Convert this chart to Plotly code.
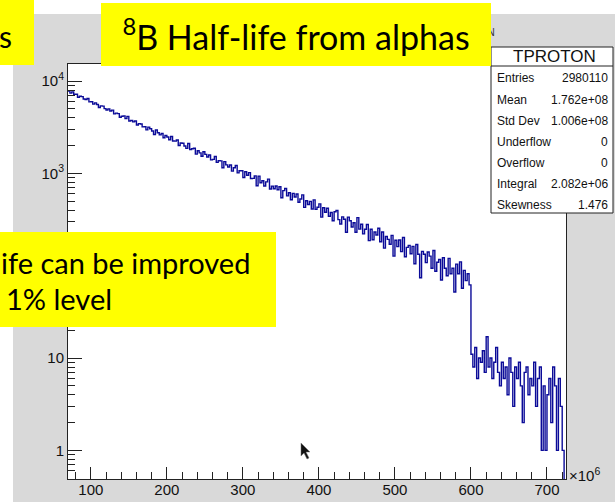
import numpy as np
import plotly.graph_objects as go

# ---- histogram data (x in units of 1e6) ----
X_MIN, X_MAX, BIN_W = 70.0, 725.0, 2.5

# counts per bin from 70 to 600
counts_decay = [
    7804, 7406, 7626, 7202, 7199, 6684, 6850, 6790, 6394, 6324,
    6465, 5955, 5968, 5626, 5797, 5567, 5165, 5390, 5352, 5034,
    4850, 4992, 4737, 4839, 4407, 4493, 4438, 4052, 4161, 4194,
    3921, 4145, 3692, 3753, 3615, 3699, 3339, 3461, 3422, 3187,
    3203, 2960, 3167, 3048, 2881, 2637, 2946, 2753, 2615, 2701,
    2435, 2571, 2479, 2311, 2505, 2245, 2237, 2302, 2008, 2133,
    2123, 1981, 1865, 2108, 1814, 1851, 1869, 1615, 1759, 1669,
    1534, 1718, 1607, 1507, 1581, 1400, 1420, 1521, 1316, 1368,
    1366, 1149, 1341, 1238, 1171, 1232, 1059, 1149, 1217, 1013,
    1069, 1068, 903, 1043, 956, 1019, 880, 882, 940, 735,
    934, 791, 833, 731, 810, 867, 677, 728, 683, 731,
    664, 717, 545, 650, 687, 571, 618, 519, 608, 554,
    598, 486, 528, 585, 428, 505, 460, 498, 412, 516,
    408, 430, 467, 336, 425, 380, 420, 343, 377, 307,
    384, 396, 316, 283, 338, 319, 230, 336, 307, 263,
    292, 230, 332, 249, 281, 221, 248, 280, 187, 248,
    191, 232, 215, 255, 182, 232, 155, 207, 193, 171,
    213, 127, 189, 161, 190, 142, 202, 125, 158, 166,
    135, 162, 105, 170, 133, 74, 143, 133, 108, 141,
    127, 94, 146, 87, 109, 117, 70, 122, 94, 78,
    120, 82, 94, 52, 104, 82, 110, 57, 89, 69,
    82, 62,
]

# counts per bin from 600 to 725
counts_tail = [
    11, 8, 13, 6, 10, 9, 12, 7, 17, 8, 10, 6, 9, 13, 7, 5,
    9, 6, 8, 4, 10, 7, 3, 8, 6, 9, 5, 2, 7, 8, 4, 6,
    5, 9, 3, 6, 8, 1, 5, 1, 4, 6, 2, 8, 5, 1, 6, 3,
    1, 0,
]

x_ticks = [100, 200, 300, 400, 500, 600, 700]
y_ticks = [1, 10, 100, 1000, 10000]
y_tick_text = ["1", "10", "10<sup>2</sup>", "10<sup>3</sup>", "10<sup>4</sup>"]

stats_name = "TPROTON"
stats_labels = ["Entries", "Mean", "Std Dev", "Underflow", "Overflow", "Integral", "Skewness"]
stats_values = ["2980110", "1.762e+08", "1.006e+08", "0", "0", "2.082e+06", "1.476"]

title_text = "<sup>8</sup>B Half-life from alphas"
note_line1 = "ife can be improved"
note_line2 = "1% level"

# ---- page geometry (pixels) ----
W, H = 615, 502
ML, MR, MT, MB = 68, 49, 64, 23
PW, PH = W - ML - MR, H - MT - MB


def fx(px):
    return (px - ML) / PW


def fy(py):
    return (H - MB - py) / PH


counts = np.array(counts_decay + counts_tail, dtype=float)
edges = X_MIN + BIN_W * np.arange(len(counts) + 1)
# empty bins sit below the log axis floor so the step line drops to the frame
y_plot = np.where(counts > 0, counts, 0.1)
y_step = np.append(y_plot, y_plot[-1])

fig = go.Figure()
fig.add_trace(go.Scatter(
    x=edges, y=y_step, mode="lines", line_shape="hv",
    line=dict(color="#0b0b98", width=1.4), hoverinfo="skip", showlegend=False,
))

AX_FONT = dict(family="Liberation Sans, Arial, sans-serif", size=15, color="#111")
YELLOW = "#ffff00"
TXT_FONT = "Lato, Open Sans, sans-serif"

minor_x = [v for v in np.arange(80, X_MAX, 20) if v % 100]
minor_y = [m * 10.0 ** k for k in range(-1, 5) for m in range(2, 10)]

fig.update_layout(
    width=W, height=H,
    margin=dict(l=ML, r=MR, t=MT, b=MB, pad=0),
    paper_bgcolor="#d9d9d9", plot_bgcolor="white",
    showlegend=False,
    xaxis=dict(
        range=[X_MIN, X_MAX], tickmode="array", tickvals=x_ticks, automargin=False,
        ticks="inside", ticklen=12, tickwidth=1, tickcolor="#222",
        showline=True, linecolor="#222", linewidth=1, mirror=True,
        showgrid=False, zeroline=False, tickfont=AX_FONT, ticklabelstandoff=-3,
        minor=dict(tickmode="array", tickvals=minor_x, ticks="inside",
                   ticklen=7, tickcolor="#222", showgrid=False),
    ),
    yaxis=dict(
        type="log", range=[np.log10(0.49), np.log10(15300)], automargin=False,
        tickmode="array", tickvals=y_ticks, ticktext=y_tick_text,
        ticks="inside", ticklen=14, tickwidth=1, tickcolor="#222",
        showline=True, linecolor="#222", linewidth=1, mirror=True,
        showgrid=False, zeroline=False, tickfont=AX_FONT,
        minor=dict(tickmode="array", tickvals=minor_y, ticks="inside",
                   ticklen=7, tickcolor="#222", showgrid=False),
    ),
)


def pix_path(points):
    """SVG path in paper units from a list of pixel points."""
    parts = [f"{'M' if i == 0 else 'L'} {fx(px):.5f},{fy(py):.5f}" for i, (px, py) in enumerate(points)]
    return " ".join(parts) + " Z"


cursor = [(301, 443), (301, 456), (304, 453), (307, 459), (309, 458), (306, 452), (310, 452)]

shapes = [
    # white strip above / left of the canvas
    dict(type="rect", xref="paper", yref="paper", x0=fx(0), x1=fx(W), y0=fy(0), y1=fy(14),
         fillcolor="white", line_width=0, layer="above"),
    dict(type="rect", xref="paper", yref="paper", x0=fx(0), x1=fx(13), y0=fy(0), y1=fy(H),
         fillcolor="white", line_width=0, layer="above"),
    # stats box
    dict(type="rect", xref="paper", yref="paper", x0=fx(491), x1=fx(613), y0=fy(47), y1=fy(213),
         fillcolor="white", line=dict(color="#222", width=1), layer="above"),
    dict(type="line", xref="paper", yref="paper", x0=fx(491), x1=fx(613), y0=fy(66), y1=fy(66),
         line=dict(color="#222", width=1), layer="above"),
    # yellow callouts
    dict(type="rect", xref="paper", yref="paper", x0=fx(0), x1=fx(34), y0=fy(0), y1=fy(65),
         fillcolor=YELLOW, line_width=0, layer="above"),
    dict(type="rect", xref="paper", yref="paper", x0=fx(0), x1=fx(276), y0=fy(232), y1=fy(327),
         fillcolor=YELLOW, line_width=0, layer="above"),
    # mouse pointer
    dict(type="path", xref="paper", yref="paper", path=pix_path(cursor),
         fillcolor="#111", line=dict(color="#777", width=0.5), layer="above"),
]
fig.update_layout(shapes=shapes)

ann = []
# histogram title (mostly hidden behind the yellow banner)
ann.append(dict(xref="paper", yref="paper", x=fx(497), y=fy(32), xanchor="right", yanchor="middle",
                text=stats_name, showarrow=False,
                font=dict(family="Liberation Sans, Arial", size=10, color="#333")))
# yellow banner with the slide title
ann.append(dict(xref="paper", yref="paper", x=fx(101), y=fy(3), xanchor="left", yanchor="top",
                width=390, height=63, borderpad=0, borderwidth=0, bgcolor=YELLOW,
                text=title_text, showarrow=False, align="center", valign="middle",
                font=dict(family=TXT_FONT, size=34, color="black")))
ann.append(dict(xref="paper", yref="paper", x=fx(14), y=fy(36), xanchor="right", yanchor="middle",
                text="s", showarrow=False, font=dict(family=TXT_FONT, size=30, color="black")))
ann.append(dict(xref="paper", yref="paper", x=fx(-1), y=fy(262), xanchor="left", yanchor="middle",
                text=note_line1, showarrow=False, font=dict(family=TXT_FONT, size=29, color="black")))
ann.append(dict(xref="paper", yref="paper", x=fx(4), y=fy(298), xanchor="left", yanchor="middle",
                text=note_line2, showarrow=False, font=dict(family=TXT_FONT, size=29, color="black")))
# x-axis multiplier
ann.append(dict(xref="paper", yref="paper", x=fx(567), y=fy(474), xanchor="left", yanchor="middle",
                text="×10<sup>6</sup>", showarrow=False, font=AX_FONT))
# stats box contents
SB_FONT = dict(family="Liberation Sans, Arial", size=12, color="#111")
ann.append(dict(xref="paper", yref="paper", x=fx(554), y=fy(56), xanchor="center", yanchor="middle",
                text=stats_name, showarrow=False,
                font=dict(family="Liberation Sans, Arial", size=17, color="#111")))
row_y = [78, 100, 121, 142, 163, 184, 205]
for lab, val, py in zip(stats_labels, stats_values, row_y):
    ann.append(dict(xref="paper", yref="paper", x=fx(495), y=fy(py), xanchor="left", yanchor="middle",
                    text=lab, showarrow=False, font=SB_FONT))
    ann.append(dict(xref="paper", yref="paper", x=fx(610), y=fy(py), xanchor="right", yanchor="middle",
                    text=val, showarrow=False, font=SB_FONT))
fig.update_layout(annotations=ann)

fig.write_html("out.html")
